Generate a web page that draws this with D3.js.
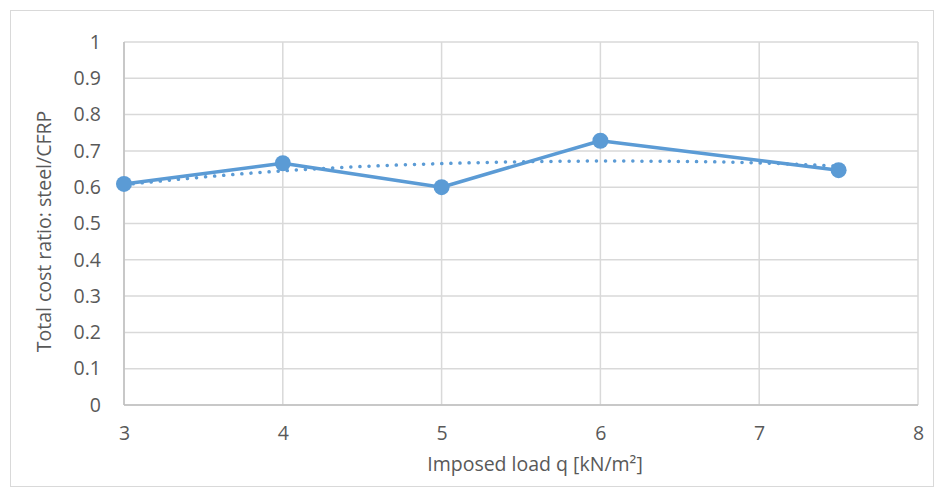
<!DOCTYPE html>
<html>
<head>
<meta charset="utf-8">
<script src="https://cdn.jsdelivr.net/npm/d3@7/dist/d3.min.js"></script>
<style>
  body { margin: 0; background: #fff; }
  svg text { font-family: "Open Sans", "Noto Sans", sans-serif; fill: #595959; }
</style>
</head>
<body>
<svg id="chart" width="944" height="497"></svg>
<script>
// Imposed load values and the steel/CFRP total cost ratio at each
const loads = [3, 4, 5, 6, 7.5];
const costRatio = [0.609, 0.666, 0.600, 0.728, 0.647];

// Trend line sampled along the load range
const trendLoads = [3, 3.5, 4, 4.5, 5, 5.5, 6, 6.5, 7, 7.5];
const trendRatio = [0.607, 0.628, 0.645, 0.657, 0.665, 0.670, 0.672, 0.671, 0.667, 0.658];

const xTicks = [3, 4, 5, 6, 7, 8];
const yTicks = [0, 0.1, 0.2, 0.3, 0.4, 0.5, 0.6, 0.7, 0.8, 0.9, 1];

const xTitle = "Imposed load q [kN/m²]";
const yTitle = "Total cost ratio: steel/CFRP";

const svg = d3.select("#chart");
const W = 944, H = 497;
const m = { left: 124, right: 26, top: 42, bottom: 92 };
const fs = 19.5;

const x = d3.scaleLinear().domain([3, 8]).range([m.left, W - m.right]);
const y = d3.scaleLinear().domain([0, 1]).range([H - m.bottom, m.top]);

// Chart frame
svg.append("rect")
  .attr("x", 10.5).attr("y", 10.5)
  .attr("width", W - 21).attr("height", H - 21)
  .attr("fill", "#fff").attr("stroke", "#d9d9d9").attr("stroke-width", 1);

// Gridlines
const grid = svg.append("g");
grid.selectAll("line.h").data(yTicks).join("line")
  .attr("x1", x(3)).attr("x2", x(8))
  .attr("y1", d => y(d)).attr("y2", d => y(d))
  .attr("stroke", "#d9d9d9").attr("stroke-width", 1.5);
grid.selectAll("line.v").data(xTicks).join("line")
  .attr("x1", d => x(d)).attr("x2", d => x(d))
  .attr("y1", y(0)).attr("y2", y(1))
  .attr("stroke", "#d9d9d9").attr("stroke-width", 1.5);

// Axis lines
svg.append("line").attr("x1", x(3)).attr("x2", x(8)).attr("y1", y(0)).attr("y2", y(0))
  .attr("stroke", "#bfbfbf").attr("stroke-width", 1.5);
svg.append("line").attr("x1", x(3)).attr("x2", x(3)).attr("y1", y(0)).attr("y2", y(1))
  .attr("stroke", "#bfbfbf").attr("stroke-width", 1.5);

// Axes (labels only)
const xAxis = svg.append("g").attr("transform", `translate(0,${y(0)})`)
  .call(d3.axisBottom(x).tickValues(xTicks).tickFormat(d3.format("d")).tickSize(0).tickPadding(21));
xAxis.select(".domain").remove();
xAxis.selectAll("text").attr("font-size", fs).style("fill", "#595959");

const yAxis = svg.append("g").attr("transform", `translate(${x(3)},0)`)
  .call(d3.axisLeft(y).tickValues(yTicks).tickFormat(d => d3.format("~g")(d)).tickSize(0).tickPadding(23));
yAxis.select(".domain").remove();
yAxis.selectAll("text").attr("font-size", fs).style("fill", "#595959");

// Axis titles
svg.append("text").attr("x", (x(3) + x(8)) / 2 + 14).attr("y", 471)
  .attr("text-anchor", "middle").attr("font-size", fs).text(xTitle);
svg.append("text")
  .attr("transform", `translate(51,${(y(0) + y(1)) / 2 + 8}) rotate(-90)`)
  .attr("text-anchor", "middle").attr("font-size", fs).text(yTitle);

const blue = "#5b9bd5";

// Dotted trend line
const trendLine = d3.line().x(d => x(d[0])).y(d => y(d[1])).curve(d3.curveNatural);
svg.append("path")
  .datum(trendLoads.map((v, i) => [v, trendRatio[i]]))
  .attr("d", trendLine)
  .attr("fill", "none").attr("stroke", blue).attr("stroke-width", 3.5)
  .attr("stroke-linecap", "round").attr("stroke-dasharray", "0.1,9");

// Data series
const pts = loads.map((v, i) => [v, costRatio[i]]);
svg.append("path")
  .datum(pts)
  .attr("d", d3.line().x(d => x(d[0])).y(d => y(d[1])))
  .attr("fill", "none").attr("stroke", blue).attr("stroke-width", 3.5)
  .attr("stroke-linejoin", "round");
svg.selectAll("circle.pt").data(pts).join("circle")
  .attr("cx", d => x(d[0])).attr("cy", d => y(d[1])).attr("r", 8)
  .attr("fill", blue);
</script>
</body>
</html>
